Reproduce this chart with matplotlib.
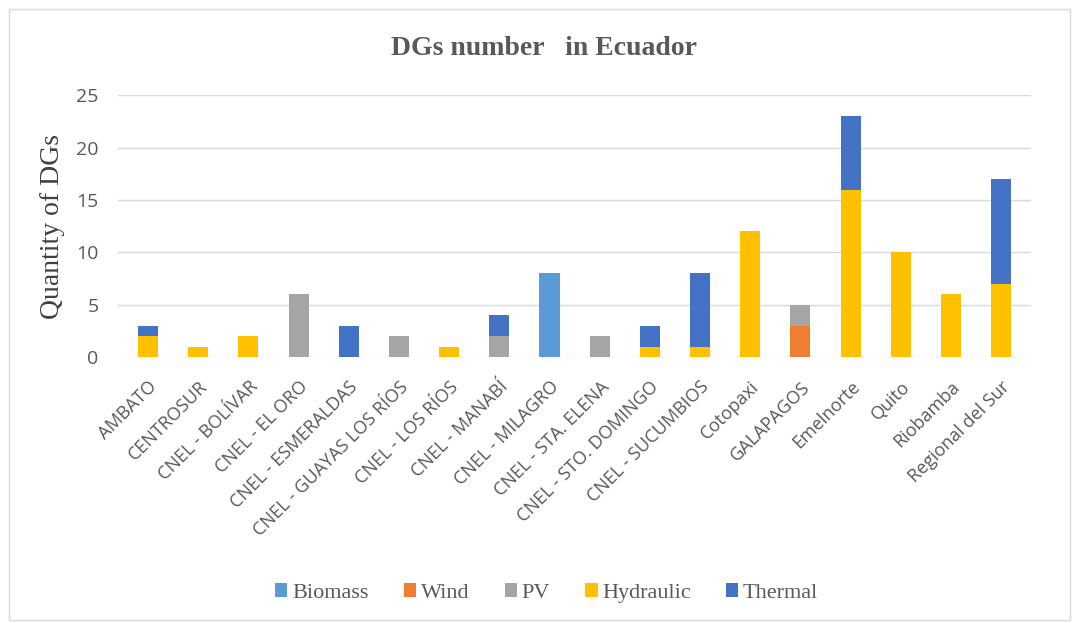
import numpy as np
import matplotlib.pyplot as plt
from matplotlib.patches import Rectangle

# categories and stacked values (bottom to top: Biomass, Wind, PV, Hydraulic, Thermal)
companies = ["AMBATO", "CENTROSUR", "CNEL - BOLÍVAR", "CNEL - EL ORO", "CNEL - ESMERALDAS",
             "CNEL - GUAYAS LOS RÍOS", "CNEL - LOS RÍOS", "CNEL - MANABÍ", "CNEL - MILAGRO",
             "CNEL - STA. ELENA", "CNEL - STO. DOMINGO", "CNEL - SUCUMBIOS", "Cotopaxi",
             "GALAPAGOS", "Emelnorte", "Quito", "Riobamba", "Regional del Sur"]
biomass = [0, 0, 0, 0, 0, 0, 0, 0, 8, 0, 0, 0, 0, 0, 0, 0, 0, 0]
wind = [0, 0, 0, 0, 0, 0, 0, 0, 0, 0, 0, 0, 0, 3, 0, 0, 0, 0]
pv = [0, 0, 0, 6, 0, 2, 0, 2, 0, 2, 0, 0, 0, 2, 0, 0, 0, 0]
hydraulic = [2, 1, 2, 0, 0, 0, 1, 0, 0, 0, 1, 1, 12, 0, 16, 10, 6, 7]
thermal = [1, 0, 0, 0, 3, 0, 0, 2, 0, 0, 2, 7, 0, 0, 7, 0, 0, 10]

series = [("Biomass", biomass, "#5B9BD5"),
          ("Wind", wind, "#ED7D31"),
          ("PV", pv, "#A5A5A5"),
          ("Hydraulic", hydraulic, "#FFC000"),
          ("Thermal", thermal, "#4472C4")]

fig = plt.figure(figsize=(10.72, 6.23), dpi=100)
ax = fig.add_axes([0.110, 0.427, 0.852, 0.420])

# light frame around the whole chart
fig.patches.append(Rectangle((0.008, 0.005), 0.99, 0.98, transform=fig.transFigure,
                             fill=False, edgecolor="#D9D9D9", linewidth=1))

x = np.arange(len(companies))
bottom = np.zeros(len(companies))
for name, vals, color in series:
    vals = np.array(vals, dtype=float)
    ax.bar(x, vals, width=0.4, bottom=bottom, color=color, label=name, zorder=3)
    bottom += vals

ax.set_ylim(0, 25)
ax.set_xlim(-0.6, len(companies) - 0.4)
ax.set_yticks([0, 5, 10, 15, 20, 25])
ax.yaxis.grid(True, color="#D9D9D9", linewidth=1, zorder=0)
for s in ax.spines.values():
    s.set_visible(False)
ax.tick_params(axis="both", length=0, colors="#595959")
ax.tick_params(axis="y", labelsize=14, pad=14)
for lbl in ax.get_yticklabels():
    lbl.set_family("Open Sans")

ax.set_xticks(x)
ax.set_xticklabels(companies, rotation=45, ha="right", rotation_mode="anchor",
                   fontsize=13, family="Open Sans", color="#595959")
ax.tick_params(axis="x", pad=15)

ax.set_ylabel("Quantity of DGs", family="Liberation Serif", fontsize=20, color="#404040", labelpad=8)
fig.text(0.507, 0.922, "DGs number   in Ecuador", ha="center", va="center",
         family="Liberation Serif", fontsize=20, fontweight="bold", color="#595959")

fig.legend(loc="center", bbox_to_anchor=(0.51, 0.048), ncol=5, frameon=False,
           prop={"family": "Liberation Serif", "size": 16}, handlelength=0.55,
           handleheight=0.55, handletextpad=0.2, columnspacing=1.6, labelcolor="#595959")

fig.savefig("out.png", dpi=100)
